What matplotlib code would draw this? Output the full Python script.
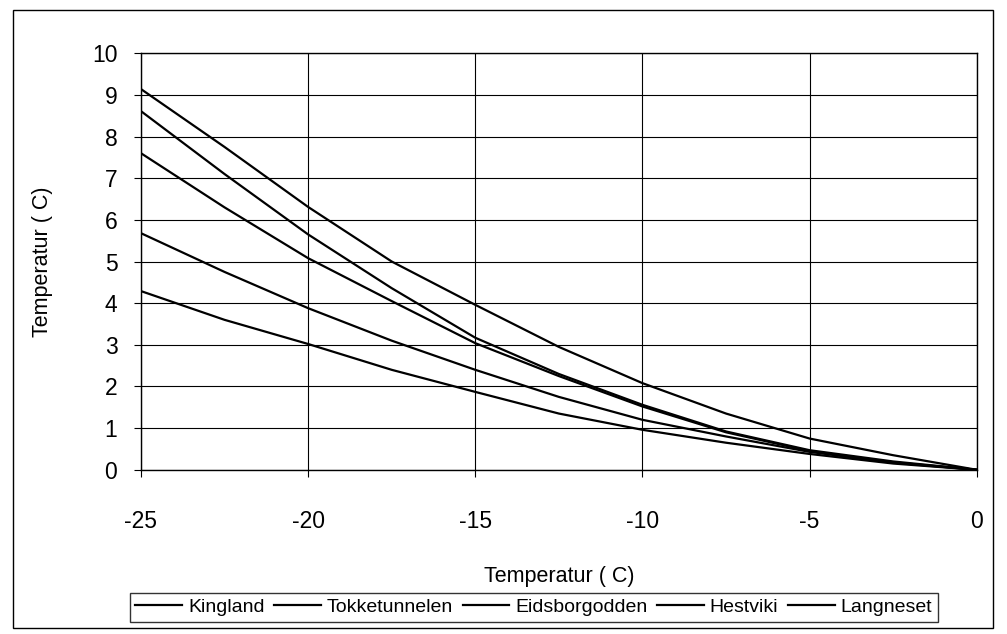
import matplotlib.pyplot as plt
from matplotlib.patches import Rectangle

plt.rcParams['font.family'] = ['Liberation Sans', 'DejaVu Sans']
plt.rcParams['axes.unicode_minus'] = False

# outdoor temperature (x axis)
temp = [-25, -22.5, -20, -17.5, -15, -12.5, -10, -7.5, -5, -2.5, 0]

# one series per site
kingland = [9.14, 7.75, 6.31, 5.0, 3.96, 2.95, 2.08, 1.35, 0.75, 0.35, 0.0]
tokketunnelen = [8.61, 7.1, 5.65, 4.36, 3.17, 2.3, 1.56, 0.92, 0.47, 0.2, 0.0]
eidsborgodden = [7.6, 6.3, 5.08, 4.05, 3.04, 2.25, 1.52, 0.9, 0.45, 0.18, 0.0]
hestviki = [5.68, 4.75, 3.88, 3.1, 2.4, 1.75, 1.2, 0.8, 0.43, 0.17, 0.0]
langneset = [4.29, 3.6, 3.02, 2.4, 1.87, 1.35, 0.96, 0.65, 0.38, 0.15, 0.0]

names = ['Kingland', 'Tokketunnelen', 'Eidsborgodden', 'Hestviki', 'Langneset']
series = [kingland, tokketunnelen, eidsborgodden, hestviki, langneset]

fig = plt.figure(figsize=(10.07, 6.34), dpi=100)
ax = fig.add_axes([0.140, 0.259, 0.830, 0.657])

for name, vals in zip(names, series):
    ax.plot(temp, vals, color='black', linewidth=1.6, label=name)

ax.set_xlim(-25, 0)
ax.set_ylim(0, 10)
ax.set_xticks([-25, -20, -15, -10, -5, 0])
ax.set_yticks(range(0, 11))
ax.grid(True, color='black', linewidth=0.8)
ax.set_axisbelow(True)
for s in ax.spines.values():
    s.set_color('black')
    s.set_linewidth(1.0)
ax.tick_params(direction='out', length=5, width=0.8, labelsize=16.5, color='black')
ax.tick_params(axis='x', pad=24)
ax.tick_params(axis='y', pad=12)

ax.set_xlabel('Temperatur ( C)', fontsize=15.5, labelpad=24)
ax.set_ylabel('Temperatur ( C)', fontsize=15.5, labelpad=28)

leg = fig.legend(loc='center', bbox_to_anchor=(0.530, 0.042), ncol=5, fontsize=14,
                 frameon=True, fancybox=False, edgecolor='black', handlelength=2.4,
                 handletextpad=0.3, columnspacing=0.5, borderpad=0.3)
leg.get_frame().set_linewidth(1.0)

# outer chart border
fig.patches.append(Rectangle((0.013, 0.010), 0.973, 0.975, transform=fig.transFigure,
                             fill=False, edgecolor='black', linewidth=1.0))

fig.savefig('out.png', dpi=100)
